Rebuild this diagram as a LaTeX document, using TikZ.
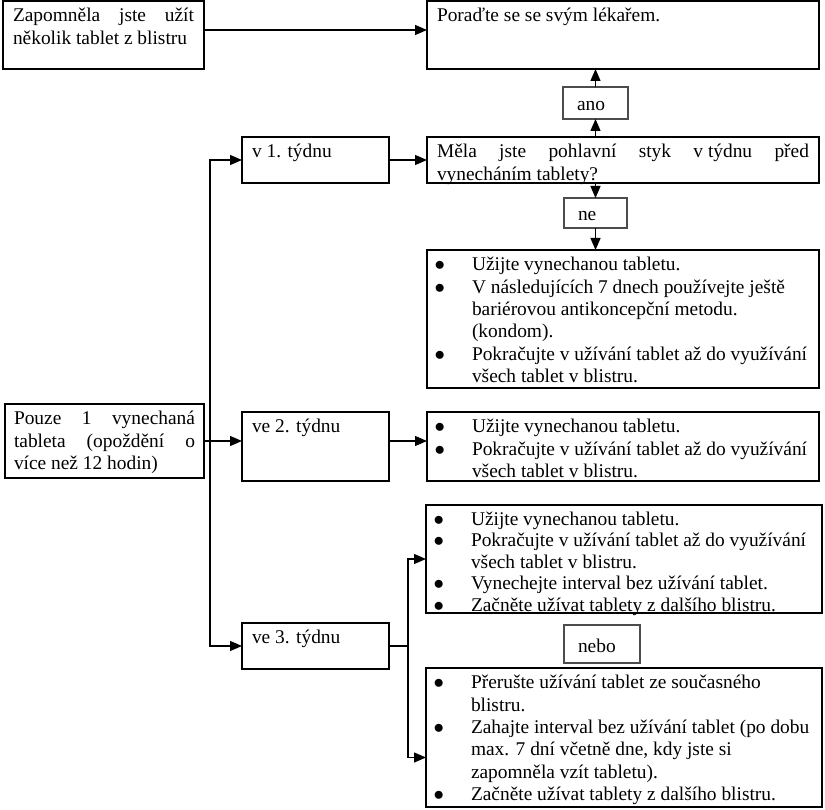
\documentclass[tikz,border=0pt]{standalone}
\usepackage{fontspec}
\setmainfont{Liberation Serif}
\usepackage{enumitem}
\usetikzlibrary{arrows.meta}
\setlist[itemize]{label=$\bullet$,leftmargin=37pt,labelwidth=10pt,labelsep=27pt,itemindent=0pt,topsep=0pt,partopsep=0pt,itemsep=0pt,parsep=0pt}
\newcommand{\boxfont}{\fontsize{19.4}{22.4}\selectfont}
\newcommand{\boxtxt}[3]{\parbox[c][#2pt][t]{#1pt}{#3}}
\newcommand{\spread}[1]{\makebox[\linewidth][s]{#1}}
\begin{document}
\begin{tikzpicture}[x=1pt,y=-1pt,
    box/.style={draw,line width=1.3pt,anchor=north west,inner xsep=10pt,inner ysep=5pt,outer sep=0pt,font=\boxfont},
    list/.style={box,inner xsep=8pt},
    tag/.style={draw=black!70,line width=1.7pt,anchor=north west,inner xsep=14pt,inner ysep=0pt,outer sep=0pt,align=left,text height=16pt,text depth=0pt,font=\boxfont},
    arr/.style={line width=1.3pt,-{Triangle[length=12pt,width=10pt]}}]
\useasboundingbox (0,0) rectangle (825,810);
\node[box] (forgot) at (3,1) {\boxtxt{181}{58}{\strut\spread{Zapomněla jste užít}\\několik tablet z blistru}};
\node[box] (doctor) at (427,1) {\boxtxt{372}{58}{\strut Poraďte se se svým lékařem.}};
\node[tag,text width=37pt,minimum height=32pt] (yes) at (563,87) {ano};
\node[box] (question) at (427,137) {\boxtxt{372}{36}{\strut\spread{Měla jste pohlavní styk v\kern.25em týdnu před}\\vynecháním tablety?}};
\node[tag,text width=35pt,minimum height=30pt] (no) at (564,198) {ne};
\node[list] (first) at (427,250) {\boxtxt{376}{128}{\begin{itemize}
  \item\strut Užijte vynechanou tabletu.
  \item V následujících 7 dnech používejte ještě\\bariérovou antikoncepční metodu.\\(kondom).
  \item Pokračujte v užívání tablet až do využívání\\všech tablet v blistru.
\end{itemize}}};
\node[box,inner xsep=9pt] (single) at (5,404) {\boxtxt{181}{64}{\strut\spread{Pouze 1 vynechaná}\\\spread{tableta (opoždění o}\\více než 12 hodin)}};
\node[box] (week1) at (242,137) {\boxtxt{127}{36}{\strut v 1. týdnu}};
\node[box] (week2) at (242,412) {\boxtxt{127}{59}{\strut ve 2. týdnu}};
\node[box] (week3) at (242,623) {\boxtxt{127}{36}{\strut ve 3. týdnu}};
\node[list] (second) at (427,412) {\boxtxt{376}{59}{\begin{itemize}
  \item\strut Užijte vynechanou tabletu.
  \item Pokračujte v užívání tablet až do využívání\\všech tablet v blistru.
\end{itemize}}};
\node[list] (thirdA) at (426,505) {\boxtxt{380}{98}{\fontsize{19.4}{21.5}\selectfont\begin{itemize}
  \item\strut Užijte vynechanou tabletu.
  \item Pokračujte v užívání tablet až do využívání\\všech tablet v blistru.
  \item Vynechejte interval bez užívání tablet.
  \item Začněte užívat tablety z dalšího blistru.
\end{itemize}}};
\node[tag,text width=48pt,minimum height=38pt] (orelse) at (564,625) {nebo};
\node[list] (thirdB) at (426,668) {\boxtxt{380}{129}{\begin{itemize}
  \item\strut Přerušte užívání tablet ze současného\\blistru.
  \item Zahajte interval bez užívání tablet (po dobu\\max. 7 dní včetně dne, kdy jste si\\zapomněla vzít tabletu).
  \item Začněte užívat tablety z dalšího blistru.
\end{itemize}}};
\draw[arr] ([yshift=5pt]forgot.east) -- ([yshift=5pt]forgot.east -| doctor.west);
\draw[arr] (yes.south |- question.north) -- (yes.south);
\draw[arr] (yes.north) -- (yes.north |- doctor.south);
\draw[arr] (no.north |- question.south) -- (no.north);
\draw[arr] (no.south) -- (no.south |- first.north);
\coordinate (fork) at ([xshift=6pt]single.east);
\draw[arr] (single.east) -- (single.east -| week2.west);
\draw[arr] (fork) |- (week1.west);
\draw[arr] (fork) |- (week3.west);
\draw[arr] (week1.east) -- (question.west);
\draw[arr] (single.east -| week2.east) -- (single.east -| second.west);
\coordinate (split) at ([xshift=19pt]week3.east);
\draw[line width=1.3pt] (week3.east) -- (split);
\draw[arr] (split) |- (thirdA.west);
\draw[arr] (split) |- ([yshift=-20pt]thirdB.west);
\end{tikzpicture}
\end{document}
